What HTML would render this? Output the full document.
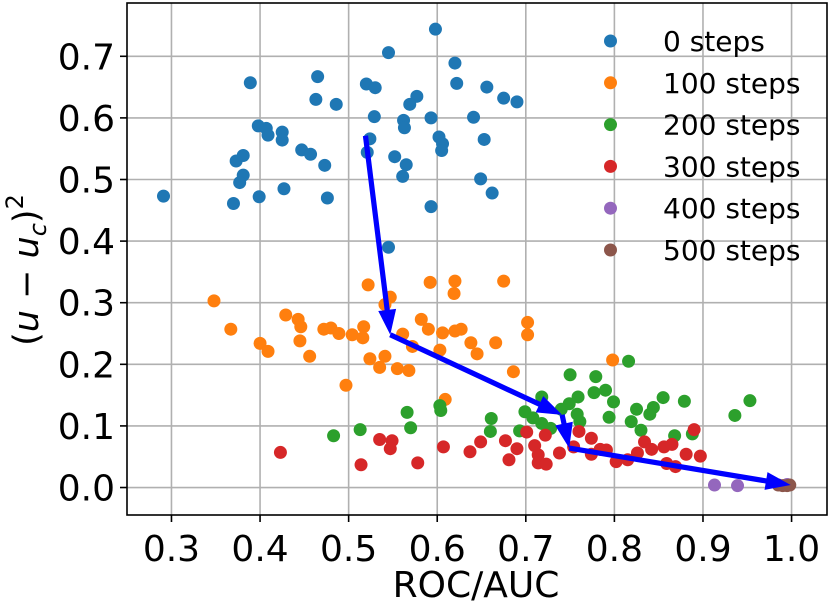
<!DOCTYPE html>
<html><head><meta charset="utf-8">
<style>
html,body{margin:0;padding:0;background:#fff;}
svg{display:block;font-family:"DejaVu Sans","Liberation Sans",sans-serif;}
</style></head>
<body>
<svg id="chart" width="830" height="606" viewBox="0 0 830 606" xmlns="http://www.w3.org/2000/svg"></svg>
<script>
const xTicks=[0.3,0.4,0.5,0.6,0.7,0.8,0.9,1.0];
const xTickLabels=["0.3","0.4","0.5","0.6","0.7","0.8","0.9","1.0"];
const yTicks=[0.0,0.1,0.2,0.3,0.4,0.5,0.6,0.7];
const yTickLabels=["0.0","0.1","0.2","0.3","0.4","0.5","0.6","0.7"];
const seriesNames=["0 steps","100 steps","200 steps","300 steps","400 steps","500 steps"];
const seriesColors=["#1f77b4","#ff7f0e","#2ca02c","#d62728","#9467bd","#8c564b"];
const steps0X=[0.598,0.545,0.620,0.389,0.465,0.520,0.530,0.622,0.656,0.675,0.690,0.463,0.486,0.577,0.569,0.529,0.562,0.563,0.593,0.641,0.398,0.407,0.409,0.425,0.425,0.524,0.602,0.606,0.605,0.653,0.447,0.521,0.457,0.381,0.373,0.552,0.565,0.473,0.381,0.377,0.561,0.649,0.427,0.662,0.291,0.399,0.370,0.476,0.593,0.545];
const steps0Y=[0.744,0.706,0.689,0.657,0.667,0.655,0.649,0.656,0.650,0.632,0.626,0.630,0.622,0.635,0.622,0.602,0.596,0.584,0.600,0.601,0.587,0.583,0.572,0.577,0.564,0.566,0.569,0.558,0.547,0.565,0.548,0.544,0.541,0.539,0.530,0.537,0.524,0.523,0.507,0.495,0.505,0.501,0.485,0.478,0.473,0.472,0.461,0.470,0.456,0.390];
const steps100X=[0.348,0.367,0.429,0.443,0.446,0.445,0.400,0.409,0.456,0.472,0.480,0.489,0.504,0.517,0.516,0.522,0.547,0.541,0.592,0.620,0.619,0.675,0.582,0.590,0.606,0.620,0.627,0.561,0.572,0.603,0.638,0.645,0.666,0.702,0.702,0.524,0.541,0.535,0.555,0.568,0.686,0.497,0.798,0.609];
const steps100Y=[0.303,0.257,0.280,0.273,0.261,0.238,0.234,0.221,0.213,0.257,0.259,0.250,0.248,0.261,0.243,0.329,0.309,0.297,0.333,0.335,0.315,0.335,0.273,0.257,0.251,0.254,0.257,0.249,0.229,0.223,0.235,0.217,0.235,0.268,0.248,0.209,0.213,0.195,0.193,0.190,0.188,0.166,0.207,0.143];
const steps200X=[0.816,0.750,0.779,0.777,0.790,0.799,0.759,0.749,0.718,0.740,0.758,0.761,0.794,0.855,0.879,0.844,0.840,0.825,0.819,0.830,0.953,0.936,0.868,0.888,0.699,0.604,0.603,0.566,0.570,0.661,0.660,0.513,0.483,0.693,0.718,0.728,0.708];
const steps200Y=[0.205,0.183,0.180,0.154,0.158,0.139,0.147,0.136,0.147,0.127,0.119,0.107,0.114,0.146,0.140,0.130,0.119,0.127,0.107,0.093,0.141,0.117,0.084,0.087,0.123,0.125,0.133,0.122,0.097,0.112,0.091,0.094,0.084,0.092,0.104,0.096,0.113];
const steps300X=[0.423,0.514,0.535,0.549,0.547,0.578,0.607,0.637,0.649,0.677,0.690,0.681,0.701,0.710,0.714,0.714,0.723,0.722,0.738,0.754,0.760,0.774,0.774,0.784,0.791,0.802,0.815,0.826,0.834,0.842,0.856,0.865,0.869,0.859,0.881,0.897,0.890];
const steps300Y=[0.057,0.037,0.078,0.076,0.063,0.040,0.066,0.058,0.074,0.076,0.063,0.045,0.090,0.068,0.053,0.040,0.038,0.085,0.056,0.066,0.091,0.080,0.054,0.062,0.061,0.042,0.045,0.056,0.074,0.062,0.066,0.070,0.034,0.039,0.054,0.051,0.094];
const steps400X=[0.913,0.939,0.995];
const steps400Y=[0.004,0.003,0.005];
const steps500X=[0.985,0.990,0.995,0.998];
const steps500Y=[0.004,0.003,0.003,0.004];
const meanX=[0.519,0.547,0.741,0.749,0.999];
const meanY=[0.571,0.248,0.118,0.064,0.004];

const NS="http://www.w3.org/2000/svg";
const svg=document.getElementById('chart');
const L=127,R=827,T=3,B=515;
const X0=0.2498,X1=1.040,Y0=-0.0446,Y1=0.7865;
const sx=v=>L+(v-X0)/(X1-X0)*(R-L);
const sy=v=>B-(v-Y0)/(Y1-Y0)*(B-T);
function mk(tag,attrs,parent){const e=document.createElementNS(NS,tag);for(const k in attrs)e.setAttribute(k,attrs[k]);(parent||svg).appendChild(e);return e;}

const grid=mk('g',{});


xTicks.forEach((t,i)=>{
  const l=mk('line',{x1:sx(t),x2:sx(t),y1:T,y2:B,stroke:'#b0b0b0','stroke-width':1.6},grid);
  
  
  const tk=mk('line',{x1:sx(t),x2:sx(t),y1:B,y2:B+7,stroke:'#000','stroke-width':1.6});
  
  
  const tx=mk('text',{x:sx(t),y:B+46,'font-size':36,'text-anchor':'middle',fill:'#000'});
  tx.textContent=xTickLabels[i];
  
  
});
yTicks.forEach((t,i)=>{
  const l=mk('line',{x1:L,x2:R,y1:sy(t),y2:sy(t),stroke:'#b0b0b0','stroke-width':1.6},grid);
  
  
  const tk=mk('line',{x1:L-7,x2:L,y1:sy(t),y2:sy(t),stroke:'#000','stroke-width':1.6});
  
  
  const tx=mk('text',{x:L-12,y:sy(t)+13,'font-size':36,'text-anchor':'end',fill:'#000'});
  tx.textContent=yTickLabels[i];
  
  
});

const allX=[steps0X,steps100X,steps200X,steps300X,steps400X,steps500X];
const allY=[steps0Y,steps100Y,steps200Y,steps300Y,steps400Y,steps500Y];
allX.forEach((xs,s)=>{
  const g=mk('g',{fill:seriesColors[s]});
  
  
  xs.forEach((x,i)=>{
    const c=mk('circle',{cx:sx(x),cy:sy(allY[s][i]),r:6.5},g);
    
    
  });
});

const ag=mk('g',{fill:'#0000ff'});


for(let i=0;i<meanX.length-1;i++){
  const x1=sx(meanX[i]),y1=sy(meanY[i]),x2=sx(meanX[i+1]),y2=sy(meanY[i+1]);
  const dx=x2-x1,dy=y2-y1,len=Math.hypot(dx,dy),ux=dx/len,uy=dy/len,nx=-uy,ny=ux;
  const w=2.6,hw=9,hl=Math.min(25,len*0.9);
  const bx=x2-ux*hl,by=y2-uy*hl;
  const pts=[[x1+nx*w,y1+ny*w],[bx+nx*w,by+ny*w],[bx+nx*hw,by+ny*hw],[x2,y2],[bx-nx*hw,by-ny*hw],[bx-nx*w,by-ny*w],[x1-nx*w,y1-ny*w]];
  const p=mk('polygon',{points:pts.map(q=>q.join(',')).join(' ')},ag);
  
  
}

const frame=mk('rect',{x:L,y:T,width:R-L,height:B-T,fill:'none',stroke:'#000','stroke-width':1.6});



const lg=mk('g',{});


seriesNames.forEach((n,i)=>{
  const y=41+i*41.8;
  const c=mk('circle',{cx:610.5,cy:y,r:6.5,fill:seriesColors[i]},lg);
  
  
  const t=mk('text',{x:663,y:y+10,'font-size':28,fill:'#000'},lg);
  t.textContent=n;
  
  
});

const xt=mk('text',{x:476,y:597,'font-size':36,'text-anchor':'middle',fill:'#000'});
xt.textContent='ROC/AUC';



const yt=mk('text',{x:0,y:0,'font-size':35,'text-anchor':'middle',fill:'#000',transform:'translate(38,270) rotate(-90)'});


yt.innerHTML='(<tspan font-style="italic">u</tspan> − <tspan font-style="italic">u</tspan><tspan font-style="italic" font-size="24" dy="8">c</tspan><tspan dy="-8">)</tspan><tspan font-size="24" dy="-15">2</tspan>';
</script>
</body></html>
